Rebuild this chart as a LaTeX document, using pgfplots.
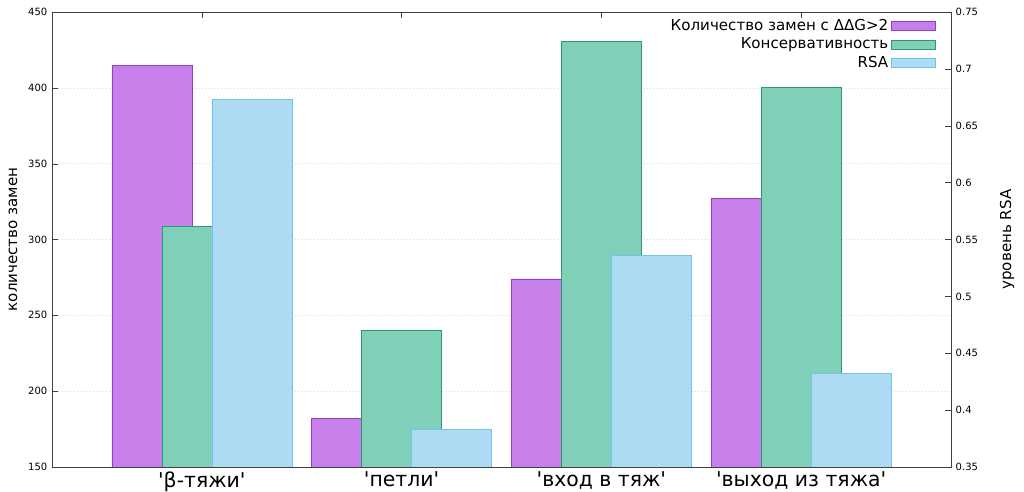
\documentclass[border=0pt]{standalone}
\usepackage{fontspec}
\setmainfont{DejaVu Sans}
\usepackage{pgfplots}
\pgfplotsset{compat=1.18}
\usetikzlibrary{calc}
\definecolor{purpfill}{RGB}{199,127,233}
\definecolor{purpdraw}{RGB}{150,60,200}
\definecolor{greenfill}{RGB}{128,207,184}
\definecolor{greendraw}{RGB}{46,150,112}
\definecolor{bluefill}{RGB}{173,219,243}
\definecolor{bluedraw}{RGB}{110,196,236}
\pgfplotsset{
  barlegend/.style={legend image code/.code={\draw[##1] (4pt,-3.4pt) rectangle (37pt,3.4pt);}},
}
\newcommand{\q}{\textquotesingle}
\begin{document}
\begin{tikzpicture}
\begin{axis}[
  name=main,
  scale only axis, width=674.25pt, height=341.25pt,
  xmin=-0.75, xmax=3.75, ymin=150, ymax=450,
  xtick={0,1,2,3},
  xticklabels={\q β-тяжи\q,\q петли\q,\q вход в тяж\q,\q выход из тяжа\q},
  x tick label style={font=\fontsize{15.3}{18}\selectfont},
  ytick={150,200,250,300,350,400,450},
  ytick pos=left,
  xtick pos=both,
  tick align=inside,
  y tick label style={font=\fontsize{7.5}{9}\selectfont},
  /pgf/number format/assume math mode=true,
  ymajorgrids, grid style={dotted, black!15},
  axis line style={black!75}, tick style={black!75},
  ylabel={количество замен},
  ylabel style={at={(axis description cs:-0.0434,0.5)}, anchor=center, font=\fontsize{11.3}{13}\selectfont},
]
\addplot[ybar, bar width=60pt, bar shift=-37.5pt, fill=purpfill, draw=purpdraw]
  coordinates {(0,415) (1,182) (2,274) (3,327)};
\end{axis}
\begin{axis}[
  scale only axis, width=674.25pt, height=341.25pt,
  xmin=-0.75, xmax=3.75, ymin=0.35, ymax=0.75,
  axis x line=none,
  axis y line*=right,
  ytick={0.35,0.4,0.45,0.5,0.55,0.6,0.65,0.7,0.75},
  yticklabels={0.35,0.4,0.45,0.5,0.55,0.6,0.65,0.7,0.75},
  tick align=inside,
  y tick label style={font=\fontsize{7.5}{9}\selectfont},
  /pgf/number format/assume math mode=true,
  axis line style={black!75}, tick style={black!75},
  ylabel={уровень RSA},
  ylabel style={at={(axis description cs:1.0623,0.5)}, anchor=center, font=\fontsize{11.3}{13}\selectfont},
  legend plot pos=right,
  legend cell align=right,
  legend style={at={(axis description cs:0.983,0.99)}, anchor=north east, draw=none, fill=none,
    font=\fontsize{11.3}{12}\selectfont, inner sep=0pt, row sep=0pt},
]
\addlegendimage{barlegend, fill=purpfill, draw=purpdraw}
\addlegendentry{Количество замен с ΔΔG>2}
\addplot[ybar, bar width=60pt, bar shift=0pt, fill=greenfill, draw=greendraw, barlegend]
  coordinates {(0,0.562) (1,0.470) (2,0.724) (3,0.684)};
\addlegendentry{Консервативность}
\addplot[ybar, bar width=60pt, bar shift=37.5pt, fill=bluefill, draw=bluedraw, barlegend]
  coordinates {(0,0.673) (1,0.383) (2,0.536) (3,0.432)};
\addlegendentry{RSA}
\end{axis}
\pgfresetboundingbox
\path ($(main.south west)+(-39pt,-18.75pt)$) rectangle ($(main.north east)+(54.75pt,9pt)$);
\end{tikzpicture}
\end{document}
